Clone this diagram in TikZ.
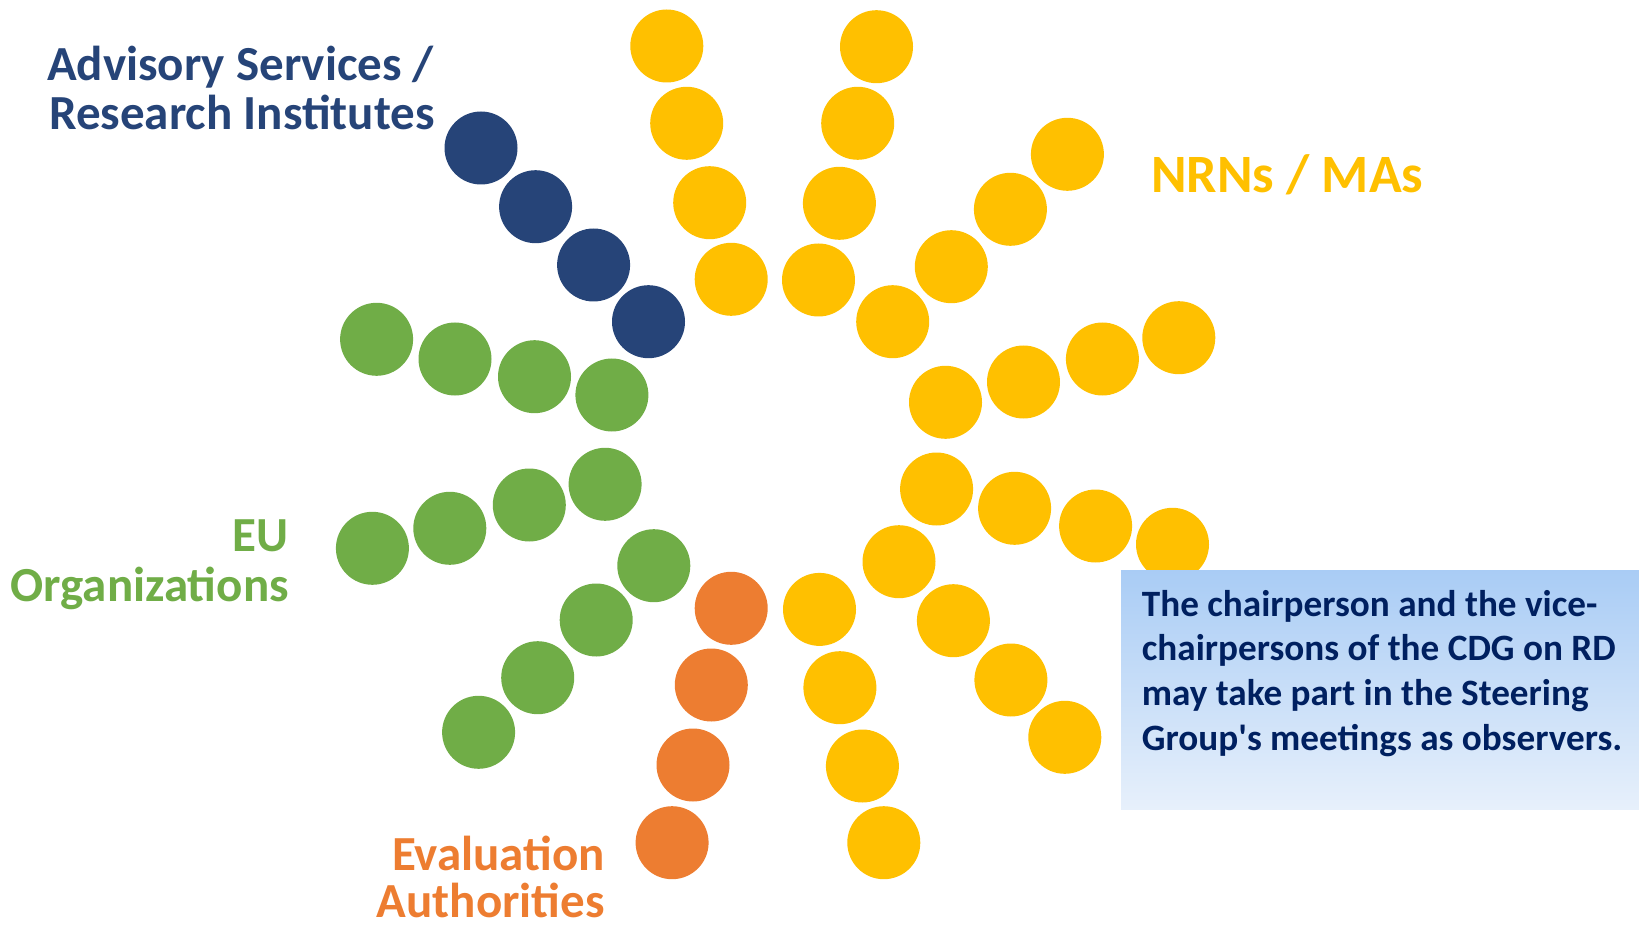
\documentclass[tikz,border=0pt]{standalone}
\usepackage{fontspec}
\setmainfont{Carlito}[Ligatures=TeXOff]
\definecolor{dblue}{HTML}{264478}
\definecolor{yel}{HTML}{FFC000}
\definecolor{grn}{HTML}{70AD47}
\definecolor{org}{HTML}{ED7D31}
\definecolor{navy}{HTML}{002060}
\definecolor{boxtop}{HTML}{A9CCF5}
\definecolor{boxbot}{HTML}{E7F0FB}
\tikzset{
  dot/.style={circle,minimum size=73pt,inner sep=0pt,draw=none},
  lbl/.style={inner sep=0pt,font=\bfseries\fontsize{49}{50}\selectfont},
  boxtxt/.style={inner sep=0pt,anchor=base west,text=navy,font=\bfseries\fontsize{37.2}{44}\selectfont},
}
\begin{document}
\begin{tikzpicture}[x=1pt,y=-1pt]
\useasboundingbox (0,0) rectangle (1639,925);
% blue
\foreach \n/\x/\y in {1/481/148,2/535.6/206.7,3/593.6/265,4/648.5/321.7}
  \node[dot,fill=dblue] (b\n) at (\x,\y) {};
% yellow groups
\foreach \n/\x/\y in {1/666.8/46,2/686.7/123.3,3/709.7/202.7,4/731.2/279.3,
  5/876.5/46.7,6/857.7/123.3,7/839.4/203.3,8/818.5/280,
  9/1067.4/154.3,10/1010.4/209.3,11/951.3/266.7,12/892.7/321.7,
  13/945.5/402.3,14/1023.5/382,15/1102.4/359,16/1178.8/337.7,
  17/936.6/489,18/1014.6/508.3,19/1095.6/526,20/1172.5/544.3,
  21/899/561.7,22/953.4/620.7,23/1010.9/680,24/1064.8/737.3,
  25/819.5/609.4,26/839.9/687.7,27/862.4/766,28/883.8/842.7}
  \node[dot,fill=yel] (y\n) at (\x,\y) {};
% green
\foreach \n/\x/\y in {1/376.6/339.3,2/455/359,3/534.5/376.7,4/611.9/395,
  5/372.4/548.3,6/449.8/528.3,7/529.3/505,8/605.1/484.3,
  9/653.8/565.7,10/596.2/620,11/537.7/677.7,12/478.6/732.3}
  \node[dot,fill=grn] (g\n) at (\x,\y) {};
% orange
\foreach \n/\x/\y in {1/731.2/608.3,2/711.3/685,3/693/765,4/672.1/842.7}
  \node[dot,fill=org] (o\n) at (\x,\y) {};
% labels
\node[lbl,text=dblue,anchor=base west] (adv1) at (47,81) {Advisory Services /};
\node[lbl,text=dblue,anchor=base west] (adv2) at (49,130) {Research Institutes};
\node[lbl,text=yel,anchor=base west,font=\bfseries\fontsize{54}{56}\selectfont] (nrn) at (1151,193) {NRNs / MAs};
\node[lbl,text=grn,anchor=base east] (eu1) at (289,551.7) {EU};
\node[lbl,text=grn,anchor=base east] (eu2) at (289,601.7) {Organizations};
\node[lbl,text=org,anchor=base east] (ev1) at (605,870) {Evaluation};
\node[lbl,text=org,anchor=base east] (ev2) at (605,917.5) {Authorities};
% box
\shade[top color=boxtop,bottom color=boxbot] (1121,570) rectangle (1639,809);
\node[boxtxt] (t1) at (1141.7,616.7) {The chairperson and the vice-};
\node[boxtxt] (t2) at (1141.7,660) {chairpersons of the CDG on RD};
\node[boxtxt] (t3) at (1141.7,705) {may take part in the Steering};
\node[boxtxt] (t4) at (1141.7,750) {Group's meetings as observers.};
\end{tikzpicture}
\end{document}
